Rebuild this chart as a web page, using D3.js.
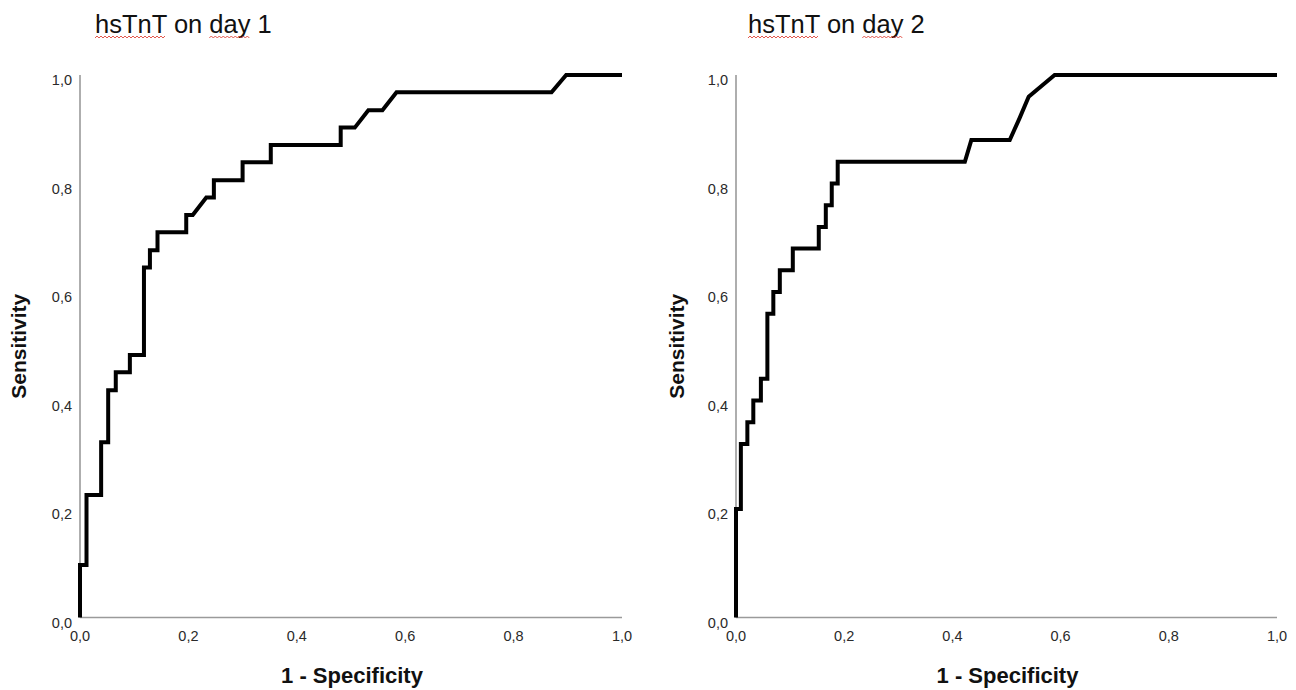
<!DOCTYPE html>
<html>
<head>
<meta charset="utf-8">
<script src="https://cdn.jsdelivr.net/npm/d3@7"></script>
<style>
  html, body { margin: 0; padding: 0; background: #fff; }
  svg { display: block; }
</style>
</head>
<body>
<svg id="chart" width="1296" height="690"></svg>
<script>
// ---- data ----
const titles = ["hsTnT on day 1", "hsTnT on day 2"];
const xLabel = "1 - Specificity";
const yLabel = "Sensitivity";
const tickValues = [0, 0.2, 0.4, 0.6, 0.8, 1.0];

// day 1 ROC curve: false positive rate (1 - specificity) and sensitivity
const day1Fpr = [0, 0, 0.012, 0.012, 0.039, 0.039, 0.052, 0.052, 0.066, 0.066, 0.092, 0.092,
  0.118, 0.118, 0.129, 0.129, 0.143, 0.143, 0.196, 0.196, 0.208, 0.233, 0.247, 0.247,
  0.300, 0.300, 0.352, 0.352, 0.481, 0.481, 0.507, 0.532, 0.558, 0.584, 0.870, 0.897, 1.0];
const day1Sens = [0, 0.097, 0.097, 0.226, 0.226, 0.323, 0.323, 0.419, 0.419, 0.452, 0.452, 0.484,
  0.484, 0.645, 0.645, 0.677, 0.677, 0.710, 0.710, 0.742, 0.742, 0.774, 0.774, 0.806,
  0.806, 0.839, 0.839, 0.871, 0.871, 0.903, 0.903, 0.935, 0.935, 0.968, 0.968, 1.0, 1.0];

// day 2 ROC curve
const day2Fpr = [0, 0, 0.009, 0.009, 0.021, 0.021, 0.032, 0.032, 0.046, 0.046, 0.058, 0.058,
  0.069, 0.069, 0.081, 0.081, 0.105, 0.105, 0.153, 0.153, 0.166, 0.166, 0.177, 0.177,
  0.188, 0.188, 0.423, 0.435, 0.506, 0.524, 0.541, 0.589, 1.0];
const day2Sens = [0, 0.20, 0.20, 0.32, 0.32, 0.36, 0.36, 0.40, 0.40, 0.44, 0.44, 0.56,
  0.56, 0.60, 0.60, 0.64, 0.64, 0.68, 0.68, 0.72, 0.72, 0.76, 0.76, 0.80,
  0.80, 0.84, 0.84, 0.88, 0.88, 0.92, 0.96, 1.0, 1.0];

const panels = [
  { title: titles[0], fpr: day1Fpr, sens: day1Sens, x0: 80, x1: 622, titleX: 95, yLabelX: 18 },
  { title: titles[1], fpr: day2Fpr, sens: day2Sens, x0: 736, x1: 1277, titleX: 748, yLabelX: 676 }
];

const svg = d3.select("#chart");
const yTop = 75, yBottom = 617.5;
const fmt = v => d3.format(".1f")(v).replace(".", ",");
const FONT = "'Liberation Sans', Arial, sans-serif";

panels.forEach(p => {
  const g = svg.append("g");
  const x = d3.scaleLinear().domain([0, 1]).range([p.x0, p.x1]);
  const y = d3.scaleLinear().domain([0, 1]).range([yBottom, yTop]);

  // axes lines
  g.append("line").attr("x1", x(0)).attr("x2", x(1)).attr("y1", y(0)).attr("y2", y(0))
    .attr("stroke", "#9a9a9a").attr("stroke-width", 1.6);
  g.append("line").attr("x1", x(0)).attr("x2", x(0)).attr("y1", y(0)).attr("y2", y(1))
    .attr("stroke", "#9a9a9a").attr("stroke-width", 1.6);

  // x tick labels
  g.selectAll(".xt").data(tickValues).enter().append("text")
    .attr("x", d => x(d)).attr("y", 641)
    .attr("text-anchor", "middle")
    .attr("font-family", FONT)
    .attr("font-size", 14.5).attr("fill", "#2a2a2a")
    .text(fmt);

  // y tick labels
  g.selectAll(".yt").data(tickValues).enter().append("text")
    .attr("x", x(0) - 8).attr("y", d => y(d) + 10)
    .attr("text-anchor", "end")
    .attr("font-family", FONT)
    .attr("font-size", 14.5).attr("fill", "#2a2a2a")
    .text(fmt);

  // axis titles
  g.append("text")
    .attr("x", (x(0) + x(1)) / 2 + 1).attr("y", 683)
    .attr("text-anchor", "middle")
    .attr("font-family", FONT)
    .attr("font-size", 22).attr("font-weight", "bold").attr("fill", "#111")
    .text(xLabel);
  g.append("text")
    .attr("transform", `translate(${p.yLabelX + 7.5},${(y(0) + y(1)) / 2}) rotate(-90)`)
    .attr("text-anchor", "middle")
    .attr("font-family", FONT)
    .attr("font-size", 21).attr("font-weight", "bold").attr("fill", "#111")
    .text(yLabel);

  // title
  const t = g.append("text")
    .attr("x", p.titleX).attr("y", 33)
    .attr("font-family", FONT)
    .attr("font-size", 25.5).attr("fill", "#111")
    .text(p.title);

  // red spell-check squiggles under "hsTnT" and "day"
  const node = t.node();
  const words = [[0, 5], [9, 12]];
  words.forEach(([a, b]) => {
    const s = node.getExtentOfChar(a);
    const e = node.getExtentOfChar(b - 1);
    const xa = s.x, xb = e.x + e.width;
    const pts = [];
    let i = 0;
    for (let xx = xa; xx <= xb; xx += 2, i++) pts.push([xx, 37 + (i % 2 ? -1 : 1)]);
    g.append("path").attr("d", d3.line()(pts))
      .attr("fill", "none").attr("stroke", "#e0453a").attr("stroke-width", 0.9);
  });

  // ROC curve
  const pts = p.fpr.map((f, i) => [f, p.sens[i]]);
  g.append("path")
    .attr("d", d3.line().x(d => x(d[0])).y(d => y(d[1]))(pts))
    .attr("fill", "none").attr("stroke", "#000")
    .attr("stroke-width", 4).attr("stroke-linejoin", "miter");
});
</script>
</body>
</html>
